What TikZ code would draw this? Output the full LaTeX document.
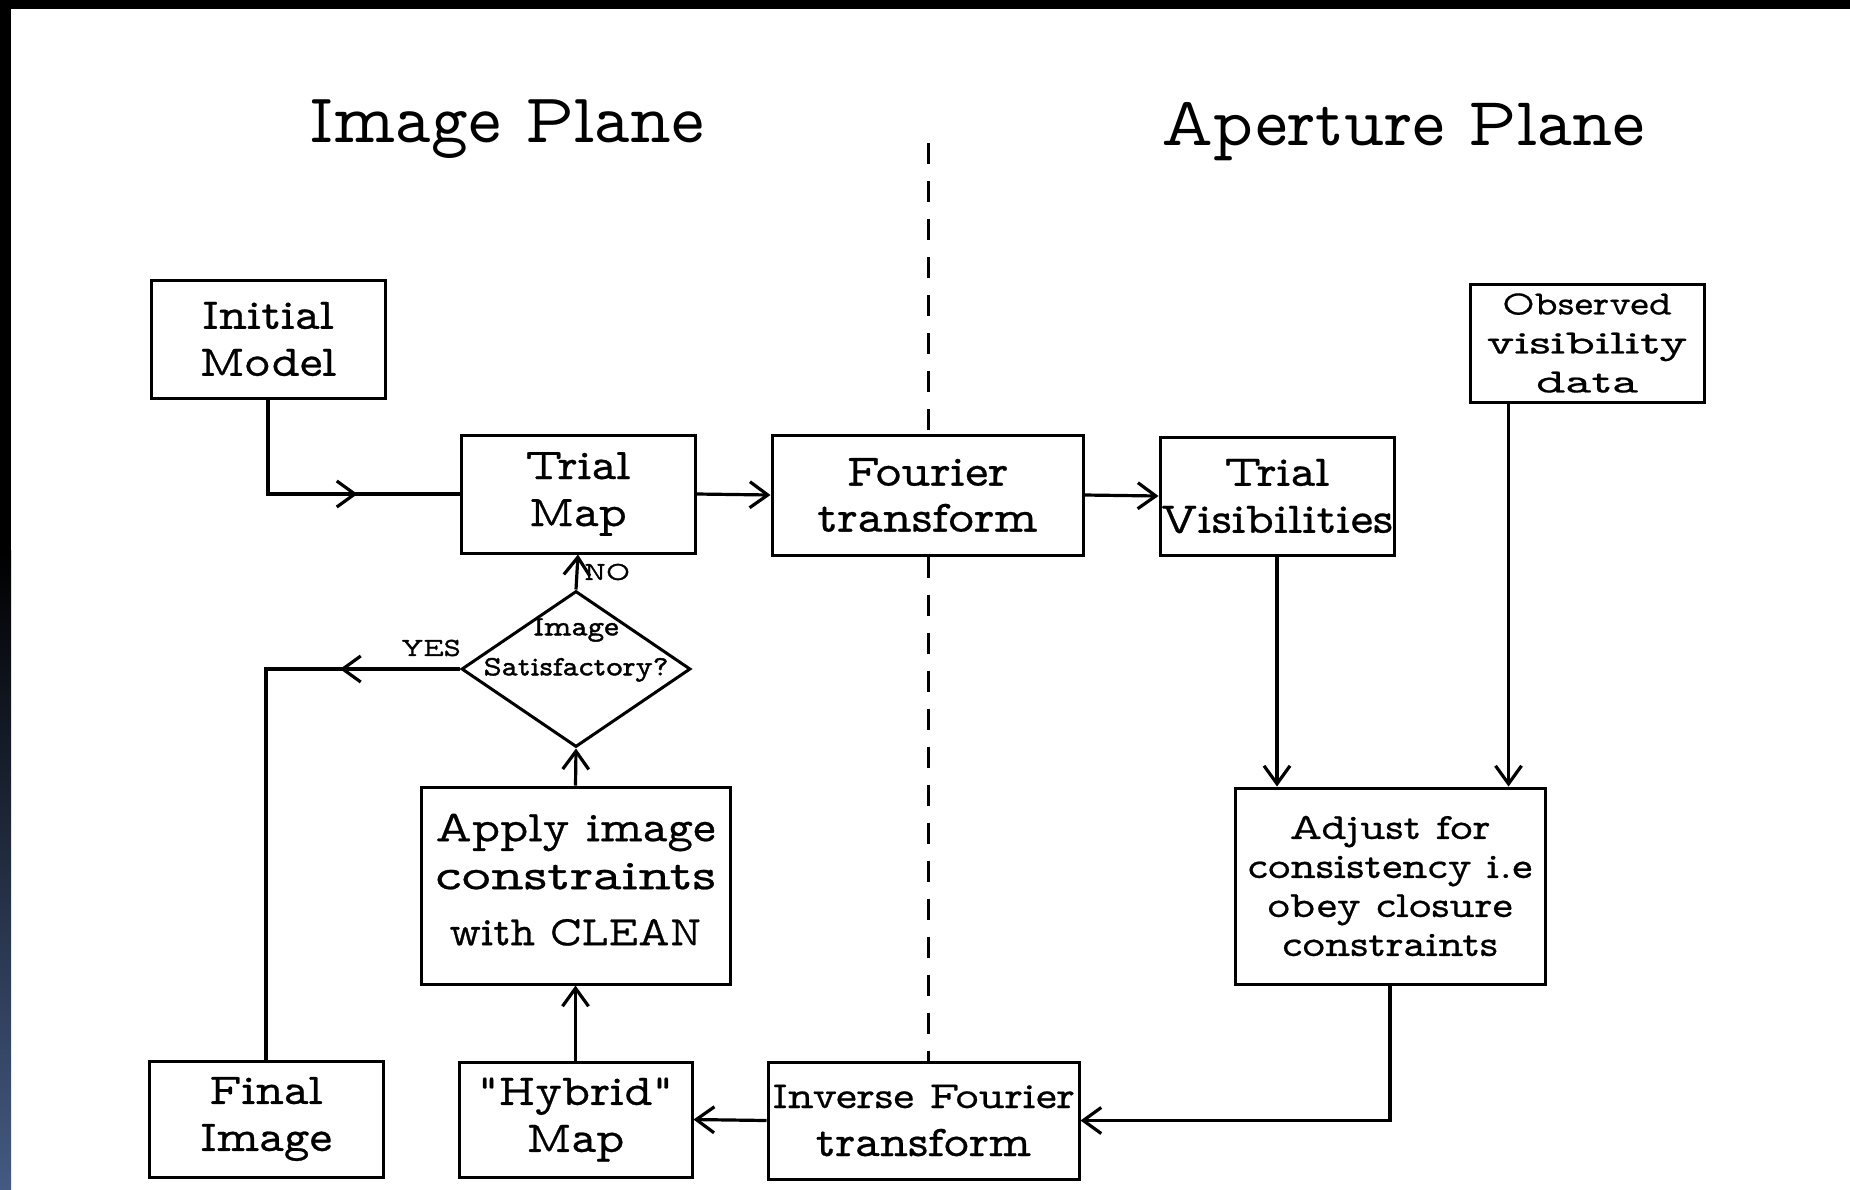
\documentclass[tikz,border=0pt]{standalone}
\usepackage{fontspec}
\newfontfamily\titlefont{Latin Modern Mono Prop}
\newfontfamily\plotfont[FakeStretch=1.1,FakeBold=0.6]{Latin Modern Mono Prop}
\newfontfamily\plainfont[FakeBold=0.6]{Latin Modern Mono Prop}
\newfontfamily\adjfont[FakeStretch=1.17,FakeBold=0.6]{Latin Modern Mono Prop}
\newfontfamily\broadfont[FakeStretch=1.28,FakeBold=0.6]{Latin Modern Mono Prop}
\newfontfamily\widefont[FakeStretch=1.5,FakeBold=0.6]{Latin Modern Mono Prop}
\newfontfamily\tagfont[FakeStretch=1.12,FakeBold=1.4]{Latin Modern Mono Prop}
\usetikzlibrary{arrows.meta,decorations.markings,shapes.geometric,calc}

\tikzset{
  box/.style={draw, line width=1.5pt, inner sep=0pt, align=center},
  link/.style={line width=1.6pt},
  flow/.style={link, -{Straight Barb[length=9pt,width=13pt,line width=1.6pt]}},
  midarrow/.style={link, postaction={decorate}, decoration={markings,
      mark=at position #1 with {\arrow{Straight Barb[length=9pt,width=13pt,line width=1.6pt]}}}},
  divider/.style={line width=1.5pt, dash pattern=on 10.5pt off 8.5pt},
  title/.style={font=\titlefont\fontsize{35}{38}\selectfont, anchor=base},
  smallbox/.style={box, minimum width=117pt, minimum height=59pt,
      font=\plotfont\fontsize{22}{23.5}\selectfont},
  tag/.style={font=\tagfont\fontsize{13}{15}\selectfont, inner sep=0pt}
}

\begin{document}
\begin{tikzpicture}[x=0.5pt,y=-0.5pt]
% page frame
\useasboundingbox (0,0) rectangle (1850,1189);
\fill[white] (0,0) rectangle (1850,1189);
\fill[black] (0,0) rectangle (1850,9);
\fill[black] (0,0) rectangle (11,550);
\shade[top color=black, bottom color={rgb,255:red,68;green,90;blue,130}] (0,550) rectangle (11,1189);

% headings
\node[title] (himg) at (507,142) {Image Plane};
\node[title, font=\titlefont\fontsize{34.5}{38}\selectfont] (hap) at (1403,145) {Aperture Plane};

% boxes
\node[smallbox] (init) at (268,339) {Initial\\Model};
\node[smallbox] (trial) at (578,494) {Trial\\Map};
\node[box, minimum width=155.5pt, minimum height=60pt,
      font=\plotfont\fontsize{22.5}{23}\selectfont] (ft) at (927.5,495) {Fourier\\transform};
\node[smallbox] (tvis) at (1277,496) {Trial\\Visibilities};
\node[box, minimum width=117pt, minimum height=59pt,
      font=\widefont\fontsize{17}{19.5}\selectfont] (obs) at (1587,343)
      {{\adjfont Observed}\\visibility\\data};

% decision diamond and its question
\node[draw, diamond, aspect=1.47, line width=1.5pt, inner sep=0pt,
      minimum width=114.5pt, minimum height=78pt] (sat) at (576,669) {};
\node[align=center, inner sep=0pt, font=\tagfont\fontsize{14}{20}\selectfont]
      (satq) at (576,650) {Image\\Satisfactory?};

\node[box, minimum width=154.5pt, minimum height=98.5pt,
      font=\plotfont\fontsize{22}{24}\selectfont] (apply) at (575.5,885.5)
      {Apply image\\{\broadfont constraints}\\[4pt]{\plainfont\fontsize{21}{24}\selectfont with CLEAN}\\[-18pt]};
\node[box, minimum width=155pt, minimum height=98pt,
      font=\adjfont\fontsize{18.5}{19.5}\selectfont] (adjust) at (1390,886) {Adjust for\\consistency i.e\\obey closure\\constraints};
\node[smallbox, minimum height=58pt] (final) at (266,1119) {Final\\Image};
\node[smallbox, minimum width=116.5pt, minimum height=57.5pt] (hybrid) at (575.5,1119.5) {"Hybrid"\\Map};
\node[box, minimum width=155.5pt, minimum height=58.5pt,
      font=\adjfont\fontsize{19}{24}\selectfont] (ift) at (923.5,1120.5)
      {Inverse Fourier\\{\plotfont\fontsize{22}{24}\selectfont transform}};

% image / aperture divider
\coordinate (dtop) at (928,143);
\draw[divider] (dtop) -- (dtop |- ft.north);
\draw[divider] (dtop |- ft.south) -- (dtop |- ift.north);

% connectors
\draw[midarrow=92pt] (init.south) |- (trial.west);
\draw[flow] (trial.east) -- (ft.west);
\draw[flow] (ft.east) -- (tvis.west);
\draw[flow] (tvis.south) -- (tvis.south |- adjust.north);
\coordinate (obsout) at ([xshift=20pt]obs.south west);
\draw[flow] (obsout) -- (obsout |- adjust.north);
\draw[flow] (adjust.south) |- (ift.east);
\draw[flow] (ift.west) -- (hybrid.east);
\draw[flow] (hybrid.north) -- (apply.south);
\draw[flow] (apply.north) -- (sat.south);
\draw[flow] (sat.north) -- (trial.south);
\draw[midarrow=60pt] (sat.west) -| (final.north);

% decision labels
\node[tag] (no) at (607,572) {NO};
\node[tag] (yes) at (431,648) {YES};
\end{tikzpicture}
\end{document}
